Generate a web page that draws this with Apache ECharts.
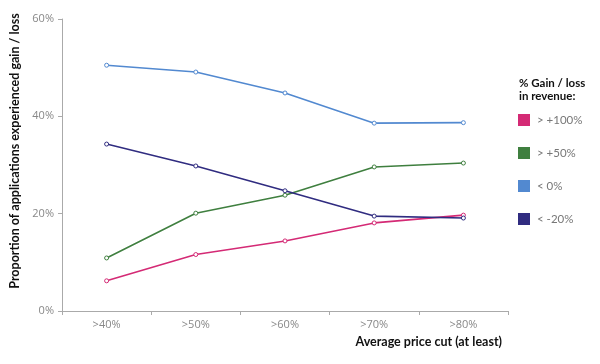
<!DOCTYPE html>
<html><head><meta charset="utf-8">
<script src="https://cdn.jsdelivr.net/npm/echarts@6/dist/echarts.min.js"></script>
<style>html,body{margin:0;padding:0;background:#fff}#c{width:600px;height:364px}</style>
</head><body><div id="c"></div>
<script>
const categories = ['>40%', '>50%', '>60%', '>70%', '>80%'];
const seriesNames = ['> +100%', '> +50%', '< 0%', '< -20%'];
const gain100 = [6.2, 11.6, 14.4, 18.1, 19.7];
const gain50 = [10.9, 20.1, 23.8, 29.6, 30.4];
const lossAny = [50.5, 49.1, 44.8, 38.6, 38.7];
const loss20 = [34.3, 29.8, 24.7, 19.5, 19.1];
const yTicks = [0, 20, 40, 60];
const colors = ['#d42a75', '#3f7f3f', '#5289d0', '#302c80'];
const values = [gain100, gain50, lossAny, loss20];

const chart = echarts.init(document.getElementById('c'));
chart.setOption({
  animation: false,
  backgroundColor: '#fff',
  textStyle: { fontFamily: 'Open Sans' },
  grid: { left: 62, right: 92, top: 19, bottom: 53 },
  title: {
    text: '% Gain / loss\nin revenue:',
    left: 514, top: 72,
    textStyle: { fontSize: 11.5, fontWeight: 'bold', color: '#111', lineHeight: 13, fontFamily: 'Lato' }
  },
  legend: {
    orient: 'vertical', left: 513, top: 109,
    itemWidth: 10, itemHeight: 10, itemGap: 21,
    icon: 'rect',
    textStyle: { fontSize: 11.5, color: '#777', fontFamily: 'Lato', padding: [0, 0, 0, 3] },
    data: seriesNames.map((n, i) => ({ name: n, itemStyle: { color: colors[i], borderColor: colors[i] } }))
  },
  xAxis: {
    type: 'category', data: categories, boundaryGap: true,
    name: 'Average price cut (at least)', nameLocation: 'end',
    nameGap: 0,
    nameTextStyle: { fontSize: 12.5, fontWeight: 'bold', color: '#111', align: 'right', verticalAlign: 'top', padding: [24, 6, 0, 0], fontFamily: 'Lato' },
    axisLine: { lineStyle: { color: '#aaa', width: 1 } },
    axisTick: { show: true, lineStyle: { color: '#aaa' }, length: 4 },
    axisLabel: { color: '#888', fontSize: 11, margin: 8 },
    splitLine: { show: false }
  },
  yAxis: {
    type: 'value', min: yTicks[0], max: yTicks[yTicks.length - 1], interval: 20,
    name: 'Proportion of applications experienced gain / loss',
    nameLocation: 'middle', nameGap: 36,
    nameTextStyle: { fontSize: 12.5, fontWeight: 'bold', color: '#111', fontFamily: 'Lato', padding: [0, 0, 0, 28] },
    axisLine: { show: true, lineStyle: { color: '#aaa', width: 1 } },
    axisTick: { show: true, lineStyle: { color: '#aaa' }, length: 4 },
    axisLabel: { color: '#888', fontSize: 11, margin: 8, formatter: '{value}%' },
    splitLine: { show: false }
  },
  series: values.map((v, i) => ({
    name: seriesNames[i], type: 'line', data: v,
    color: colors[i],
    symbol: 'circle', symbolSize: 4,
    itemStyle: { color: '#fff', borderColor: colors[i], borderWidth: 1 },
    lineStyle: { color: colors[i], width: 1.6 }
  }))
});
</script></body></html>
